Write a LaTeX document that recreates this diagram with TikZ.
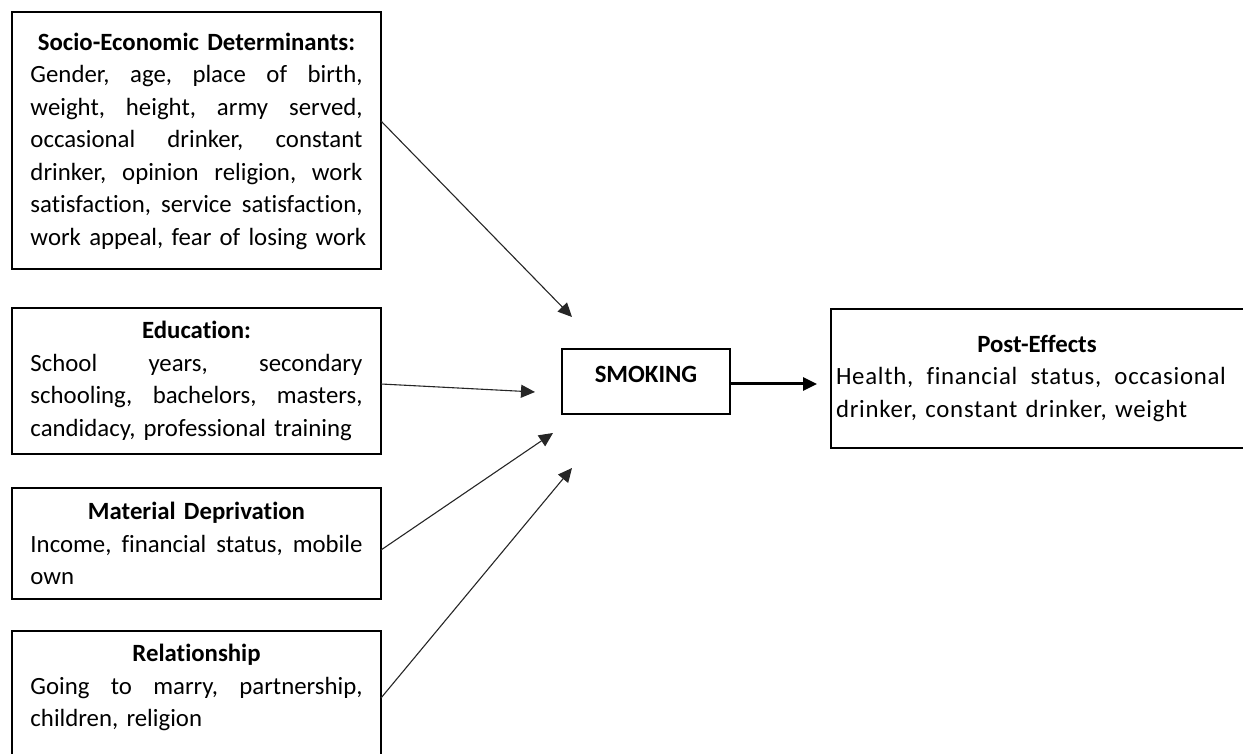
\documentclass[tikz,border=0pt]{standalone}
\usepackage{fontspec}
\setmainfont[Ligatures=NoCommon]{Carlito}
\newfontfamily\spacedfont[LetterSpace=3,Ligatures=NoCommon]{Carlito}
\usetikzlibrary{arrows.meta,calc}
\newcommand{\jl}[2][\linewidth]{\leavevmode\hbox to #1{\frenchspacing\spaceskip=0.226em plus 1fil\relax #2}}
\newcommand{\ttl}[1]{\makebox[\linewidth]{\bfseries #1}}
\tikzset{
  factor/.style={draw, line width=1pt, rectangle, outer sep=0pt, align=left,
    text width=166pt, inner xsep=9.25pt, inner ysep=0pt, minimum width=184.5pt,
    font=\fontsize{12.4}{16.25}\selectfont},
  thin arrow/.style={line width=0.55pt, draw=black!85, -{Triangle[length=7pt,width=6.5pt]}},
  thick arrow/.style={line width=1.5pt, -{Triangle[length=7pt,width=6.5pt]}}
}
\begin{document}
\begin{tikzpicture}[x=0.5pt,y=-0.5pt]
\useasboundingbox (0,0) rectangle (1243,754);
\clip (0,0) rectangle (1243,754);

\node[factor, minimum height=128.5pt] (b1) at (196.5,141) {%
\ttl{Socio-Economic Determinants:}\\
\jl{Gender, age, place of birth,}\\
\jl{weight, height, army served,}\\
\jl{occasional drinker, constant}\\
\jl{drinker, opinion religion, work}\\
\jl{satisfaction, service satisfaction,}\\
\mbox{work appeal, fear of losing work}};

\node[factor, minimum height=73pt] (b2) at (196.5,381) {%
\ttl{Education:}\\
\jl{School years, secondary}\\
\jl{schooling, bachelors, masters,}\\
\mbox{candidacy, professional training}};

\node[factor, minimum height=55.5pt] (b3) at (196.5,543.5) {%
\ttl{Material Deprivation}\\
\jl{Income, financial status, mobile}\\
own};

\node[factor, minimum height=71pt] (b4) at (196.5,702) {%
\ttl{Relationship}\\
\jl{Going to marry, partnership,}\\
\mbox{children, religion}\\
\mbox{}};

\node[draw, line width=1pt, outer sep=0pt, minimum width=84pt, minimum height=32.5pt,
  inner sep=0pt, text height=8.5pt, text depth=7pt,
  font=\fontsize{12.4}{16.25}\selectfont\bfseries] (sm) at (646,381.5) {SMOKING};

\node[draw, line width=1pt, outer sep=0pt, anchor=west, align=left, text width=207pt,
  inner xsep=2.5pt, inner ysep=0pt, minimum height=69.5pt,
  font=\fontsize{12.4}{16.25}\selectfont] (pe) at (831,378.5) {%
\makebox[201pt]{\bfseries Post-Effects}\\
{\spacedfont\jl[195pt]{Health, financial status, occasional}}\\
{\spacedfont\mbox{drinker, constant drinker, weight}}};

\coordinate (t1) at (572,317);
\coordinate (t2) at (535,392);
\coordinate (t3) at (553,433);
\coordinate (t4) at (572,468);
\coordinate (t5) at (817,384);

\draw[thin arrow] ([yshift=10pt]b1.east) -- (t1);
\draw[thin arrow] ([yshift=-1.5pt]b2.east) -- (t2);
\draw[thin arrow] ([yshift=-3.25pt]b3.east) -- (t3);
\draw[thin arrow] ([yshift=2pt]b4.east) -- (t4);
\draw[thick arrow] ([yshift=-1.25pt]sm.east) -- (t5);
\end{tikzpicture}
\end{document}
